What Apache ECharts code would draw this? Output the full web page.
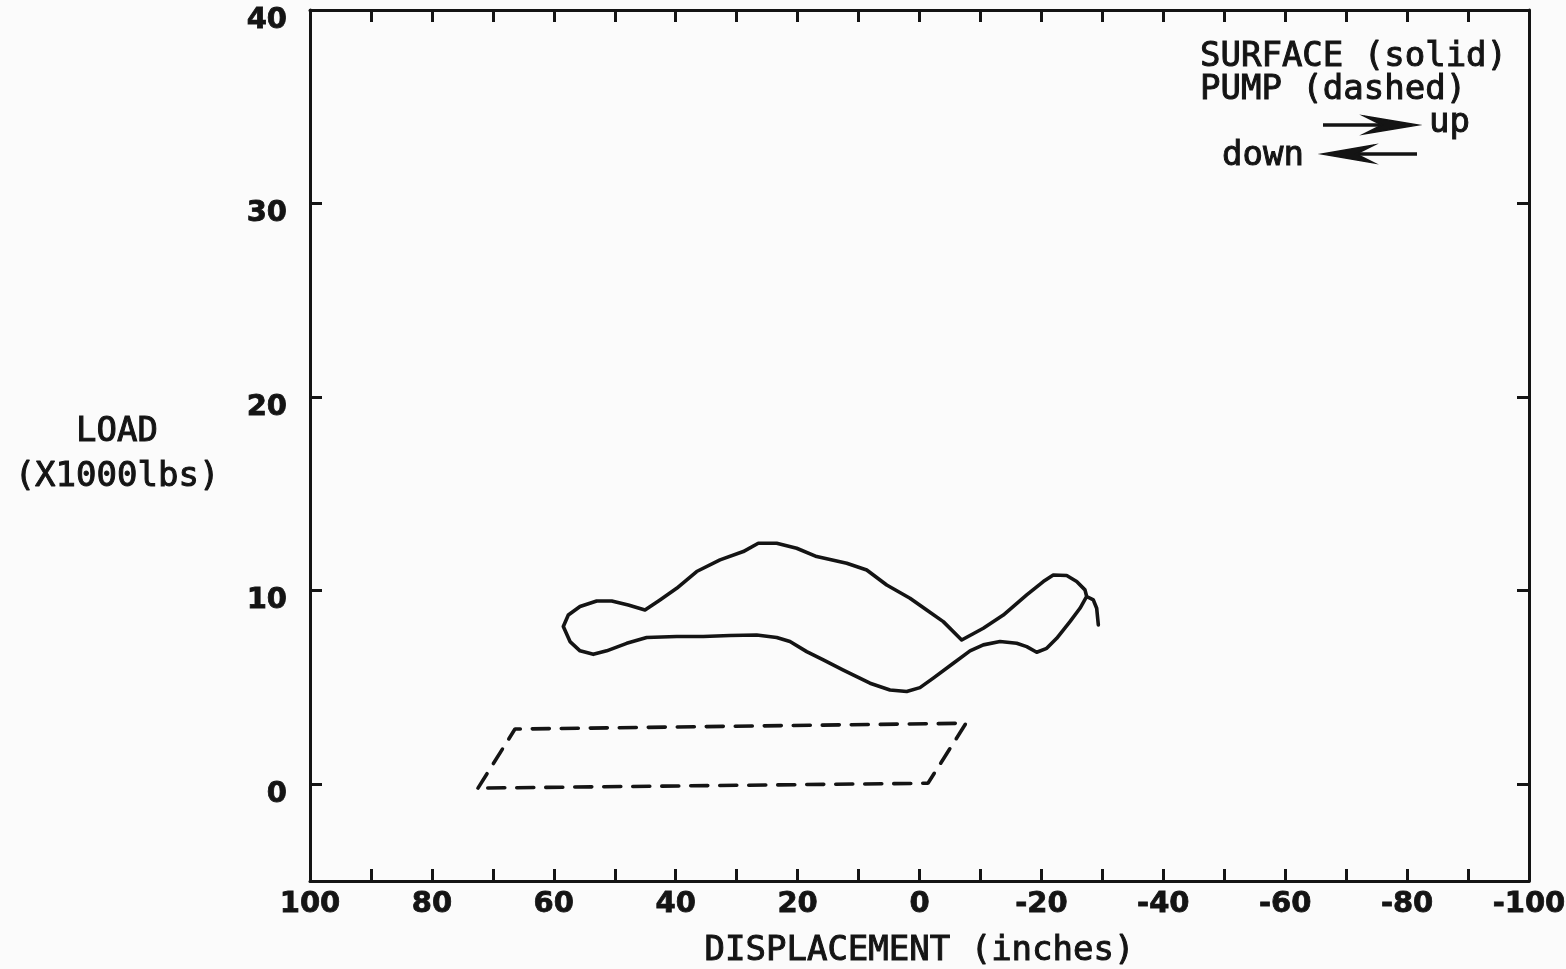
<!DOCTYPE html>
<html>
<head>
<meta charset="utf-8">
<title>Dynamometer card</title>
<script src="https://cdn.jsdelivr.net/npm/echarts@6/dist/echarts.min.js"></script>
<style>
  html, body { margin: 0; padding: 0; background: #fbfbfb; }
  #chart { width: 1566px; height: 969px; }
</style>
</head>
<body>
<div id="chart"></div>
<script>
// Surface card (solid): polished-rod displacement (in) and load (x1000 lbs)
const surfaceDisp = [
  -27.43, -26.33, -24.69, -22.51, -20.87, -19.23, -17.59, -15.95, -13.21, -10.47,
  -8.29, -5.55, -2.26, -0.08, 2.10, 4.84, 8.12, 12.50, 15.78, 18.51,
  21.25, 23.43, 26.71, 31.09, 35.47, 39.84, 44.76, 48.04, 51.32, 53.52,
  55.70, 57.34, 58.44,
  57.62, 55.70, 52.96, 50.50, 47.78, 45.04, 42.58, 39.84, 36.56, 32.73,
  28.91, 26.45, 23.43, 20.15, 16.87, 11.94, 8.66, 5.38, 1.56, -1.18,
  -3.90, -6.92, -10.47, -13.75, -17.59, -20.31, -21.95, -24.15, -25.79, -27.15,
  -27.43, -28.52, -29.07, -29.34
];
const surfaceLoad = [
  9.70, 9.09, 8.40, 7.54, 7.02, 6.82, 7.11, 7.28, 7.37, 7.20,
  6.89, 6.25, 5.48, 4.99, 4.79, 4.87, 5.22, 5.90, 6.42, 6.85,
  7.37, 7.58, 7.71, 7.68, 7.63, 7.63, 7.58, 7.28, 6.89, 6.71,
  6.89, 7.37, 8.15,
  8.74, 9.18, 9.47, 9.47, 9.26, 9.00, 9.52, 10.12, 10.99, 11.59,
  12.02, 12.45, 12.45, 12.19, 11.76, 11.42, 11.07, 10.29, 9.61, 9.00,
  8.40, 7.45, 8.06, 8.74, 9.78, 10.47, 10.81, 10.78, 10.47, 10.04,
  9.70, 9.52, 9.09, 8.23
];

// Pump card (dashed): corners of the downhole card
const pumpDisp = [72.44, 66.37, -7.63, -1.39, 72.44];
const pumpLoad = [-0.20, 2.85, 3.15, 0.05, -0.20];

// Axis ticks
const xTicks = [100, 80, 60, 40, 20, 0, -20, -40, -60, -80, -100];
const yTicks = [0, 10, 20, 30, 40];

const ink = '#141414';
// axis label / axis name text (ECharts label options)
const tickFont = {
  fontFamily: 'DejaVu Sans', fontWeight: 'bold', fontSize: 29, color: ink,
  textBorderColor: ink, textBorderWidth: 0.8
};
const nameFont = {
  fontFamily: 'DejaVu Sans Mono', fontSize: 34, color: ink,
  textBorderColor: ink, textBorderWidth: 1
};
// free-standing text (zrender style options)
const plainText = {
  font: '34px "DejaVu Sans Mono"', fill: ink, stroke: ink, lineWidth: 1
};

const zip = (xs, ys) => xs.map((x, i) => [x, ys[i]]);

const frameLine = { show: true, onZero: false, lineStyle: { color: ink, width: 3 } };
const innerTick = { show: true, inside: true, length: 12, lineStyle: { color: ink, width: 3 } };

const chart = echarts.init(document.getElementById('chart'), null, { renderer: 'canvas' });

chart.setOption({
  backgroundColor: '#fbfbfb',
  animation: false,
  grid: { left: 310, right: 37, top: 10, bottom: 88, containLabel: false, outerBoundsMode: 'none' },
  xAxis: [
    {
      type: 'value', position: 'bottom', inverse: true,
      min: -100, max: 100, interval: 10,
      axisLine: frameLine, axisTick: innerTick,
      splitLine: { show: false },
      axisLabel: {
        ...tickFont, margin: 9,
        formatter: v => (xTicks.indexOf(v) >= 0 ? String(v) : '')
      },
      name: 'DISPLACEMENT (inches)', nameLocation: 'middle', nameGap: 53,
      nameTextStyle: { ...nameFont }
    },
    {
      type: 'value', position: 'top', inverse: true,
      min: -100, max: 100, interval: 10,
      axisLine: frameLine, axisTick: innerTick,
      splitLine: { show: false }, axisLabel: { show: false }
    }
  ],
  yAxis: [
    {
      type: 'value', position: 'left', min: -5, max: 40,
      axisLine: frameLine,
      axisTick: { ...innerTick, customValues: yTicks },
      splitLine: { show: false },
      axisLabel: { ...tickFont, margin: 23, verticalAlign: 'top', lineHeight: 20, customValues: yTicks }
    },
    {
      type: 'value', position: 'right', min: -5, max: 40,
      axisLine: frameLine,
      axisTick: { ...innerTick, customValues: yTicks },
      splitLine: { show: false },
      axisLabel: { show: false, customValues: yTicks }
    }
  ],
  series: [
    {
      name: 'SURFACE', type: 'line', xAxisIndex: 0, yAxisIndex: 0,
      data: zip(surfaceDisp, surfaceLoad),
      showSymbol: false, smooth: false,
      lineStyle: { color: ink, width: 3.6, join: 'round', cap: 'round' }
    },
    {
      name: 'PUMP', type: 'line', xAxisIndex: 0, yAxisIndex: 0,
      data: zip(pumpDisp, pumpLoad),
      showSymbol: false, smooth: false,
      lineStyle: { color: ink, width: 3.6, type: [17, 12], cap: 'round' }
    }
  ],
  graphic: [
    // vertical axis title
    { type: 'text', x: 117, y: 455, style: { ...plainText, text: 'LOAD\n(X1000lbs)', align: 'center', verticalAlign: 'middle', lineHeight: 45 } },
    // key
    { type: 'text', x: 1200, y: 57, style: { ...plainText, text: 'SURFACE (solid)', verticalAlign: 'middle' } },
    { type: 'text', x: 1200, y: 90, style: { ...plainText, text: 'PUMP (dashed)', verticalAlign: 'middle' } },
    { type: 'text', x: 1429, y: 123, style: { ...plainText, text: 'up', verticalAlign: 'middle' } },
    { type: 'text', x: 1222, y: 156, style: { ...plainText, text: 'down', verticalAlign: 'middle' } },
    // up arrow
    { type: 'line', shape: { x1: 1323, y1: 125, x2: 1405, y2: 125 }, style: { stroke: ink, lineWidth: 3.5 } },
    { type: 'polygon', shape: { points: [[1364, 116], [1418, 125], [1364, 134], [1382, 125]] }, style: { fill: ink, stroke: ink, lineWidth: 1.5 } },
    // down arrow
    { type: 'line', shape: { x1: 1333, y1: 154, x2: 1417, y2: 154 }, style: { stroke: ink, lineWidth: 3.5 } },
    { type: 'polygon', shape: { points: [[1374, 145], [1322, 154], [1374, 163], [1356, 154]] }, style: { fill: ink, stroke: ink, lineWidth: 1.5 } }
  ]
});
</script>
</body>
</html>
